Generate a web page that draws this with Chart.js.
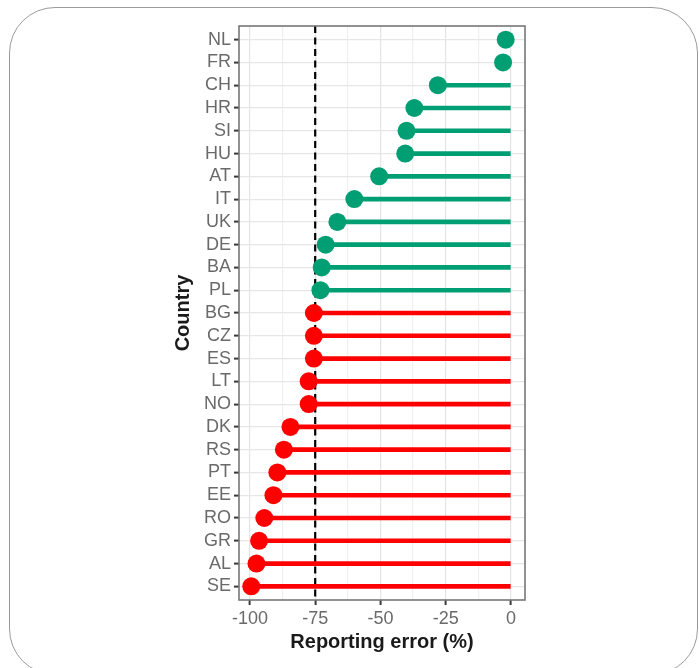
<!DOCTYPE html>
<html>
<head>
<meta charset="utf-8">
<script src="https://cdn.jsdelivr.net/npm/chart.js@4.4.1/dist/chart.umd.min.js"></script>
<style>
  html, body { margin: 0; padding: 0; background: #fff; }
  #wrap { position: relative; width: 699px; height: 668px; overflow: hidden; }
  #frame { position: absolute; left: 9px; top: 7px; width: 689px; height: 668px; border: 1.5px solid #9a9a9a;
           border-radius: 46px; box-sizing: border-box; pointer-events: none; }
  canvas { position: absolute; left: 0; top: 0; }
</style>
</head>
<body>
<div id="wrap">
  <canvas id="lollipop" width="699" height="668"></canvas>
  <div id="frame"></div>
</div>
<script>
const countries = ['NL','FR','CH','HR','SI','HU','AT','IT','UK','DE','BA','PL','BG','CZ','ES','LT','NO','DK','RS','PT','EE','RO','GR','AL','SE'];
const reportingError = [-2, -3, -28, -37, -40, -40.5, -50.5, -60, -66.5, -71, -72.5, -73, -75.5, -75.5, -75.5, -77.5, -77.5, -84.5, -87, -89.5, -91, -94.5, -96.5, -97.5, -99.5];
const xTicks = [-100, -75, -50, -25, 0];
const threshold = -75;

const GREEN = '#009E73';
const RED = '#ff0000';
const colorFor = v => v > threshold ? GREEN : RED;
const pointColors = reportingError.map(colorFor);

// panel border + dashed reference line
const panelPlugin = {
    id: 'panel',
    beforeDatasetsDraw(chart) {
        const {ctx, chartArea, scales} = chart;
        const x = scales.x.getPixelForValue(threshold);
        ctx.save();
        ctx.strokeStyle = '#000';
        ctx.lineWidth = 2.2;
        ctx.setLineDash([7, 4.5]);
        ctx.beginPath();
        ctx.moveTo(x, chartArea.top);
        ctx.lineTo(x, chartArea.bottom);
        ctx.stroke();
        ctx.restore();
    },
    afterDraw(chart) {
        const {ctx, chartArea} = chart;
        ctx.save();
        ctx.strokeStyle = '#777';
        ctx.lineWidth = 1.6;
        ctx.strokeRect(chartArea.left, chartArea.top, chartArea.right - chartArea.left, chartArea.bottom - chartArea.top);
        ctx.restore();
    }
};

const ctx = document.getElementById('lollipop').getContext('2d');

const chart = new Chart(ctx, {
    data: {
        datasets: [
            {
                type: 'scatter',
                order: 0,
                data: reportingError.map((v, i) => ({x: v, y: i})),
                backgroundColor: pointColors,
                pointRadius: 9,
                pointHoverRadius: 9,
                borderWidth: 0
            },
            {
                type: 'bar',
                order: 1,
                indexAxis: 'y',
                data: reportingError.map((v, i) => ({x: [v, 0], y: i})),
                backgroundColor: pointColors,
                barThickness: 4,
                borderWidth: 0
            }
        ]
    },
    options: {
        responsive: false,
        animation: false,
        layout: {
            padding: {left: 168, right: 174, top: 26, bottom: 8}
        },
        plugins: {
            legend: { display: false },
            tooltip: { enabled: false }
        },
        scales: {
            x: {
                type: 'linear',
                min: -104.2,
                max: 5.4,
                offset: false,
                afterBuildTicks: s => {
                    const t = [];
                    xTicks.forEach((v, i) => {
                        t.push({value: v});
                        if (i < xTicks.length - 1) t.push({value: (v + xTicks[i + 1]) / 2});
                    });
                    s.ticks = t;
                },
                afterFit: s => { s.height = 60; },
                border: { display: false },
                grid: {
                    offset: false,
                    color: c => xTicks.includes(c.tick.value) ? '#e4e4e4' : '#f0f0f0',
                    lineWidth: 1.2,
                    tickLength: 5,
                    tickColor: c => xTicks.includes(c.tick.value) ? '#3a3a3a' : 'rgba(0,0,0,0)',
                    tickWidth: 2
                },
                ticks: {
                    autoSkip: false,
                    maxRotation: 0,
                    padding: 3,
                    color: '#6a6a6a',
                    font: { family: 'Liberation Sans, Arial, sans-serif', size: 18 },
                    callback: v => xTicks.includes(v) ? String(v) : ''
                },
                title: {
                    display: true,
                    text: 'Reporting error (%)',
                    color: '#1a1a1a',
                    font: { family: 'Liberation Sans, Arial, sans-serif', size: 20, weight: 'bold' },
                    padding: {top: 0, bottom: 6}
                }
            },
            y: {
                type: 'linear',
                reverse: true,
                offset: false,
                min: -0.6,
                max: countries.length - 0.4,
                afterBuildTicks: s => { s.ticks = countries.map((c, i) => ({value: i})); },
                afterFit: s => { s.width = 71; },
                border: { display: false },
                grid: {
                    offset: false,
                    color: '#e6e6e6',
                    lineWidth: 1.2,
                    tickLength: 5,
                    tickColor: '#3a3a3a',
                    tickWidth: 2
                },
                ticks: {
                    autoSkip: false,
                    padding: 3,
                    color: '#6a6a6a',
                    font: { family: 'Liberation Sans, Arial, sans-serif', size: 18 },
                    callback: v => countries[v]
                },
                title: {
                    display: true,
                    text: 'Country',
                    color: '#1a1a1a',
                    font: { family: 'Liberation Sans, Arial, sans-serif', size: 20, weight: 'bold' },
                    padding: {top: 3, bottom: 0}
                }
            }
        }
    },
    plugins: [panelPlugin]
});
</script>
</body>
</html>
